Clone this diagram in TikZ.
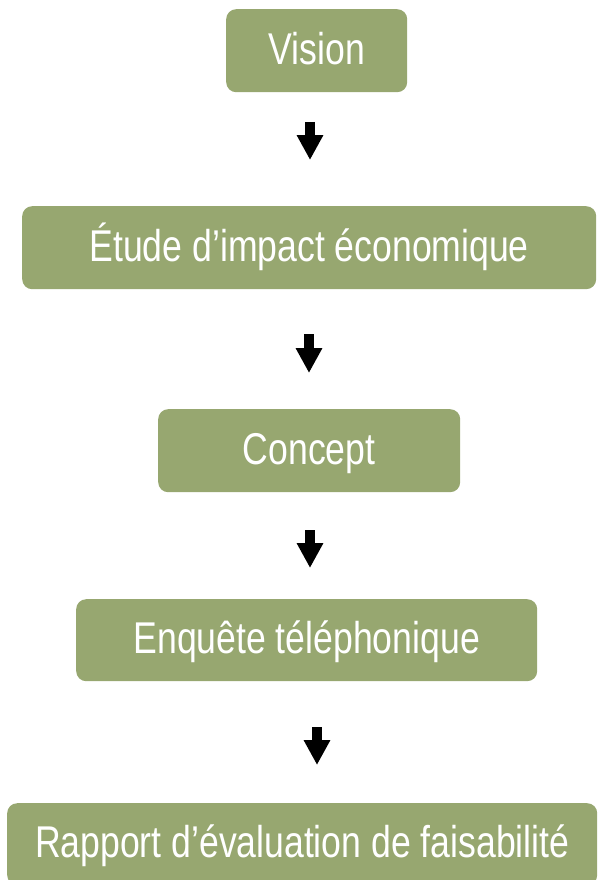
\documentclass[tikz,border=0pt]{standalone}
\usepackage{fontspec}
\setmainfont[FakeStretch=0.80]{Liberation Sans}
\usetikzlibrary{arrows.meta}
\definecolor{boxgreen}{RGB}{151,167,112}
\tikzset{
  stepbox/.style={fill=boxgreen, draw=none, rounded corners=10pt, anchor=north west,
    inner sep=0pt, text=white, font=\fontsize{44.5}{46}\selectfont,
    text height=32pt, text depth=5pt},
  bigarrow/.style={line width=10pt, line cap=butt,
    -{Triangle[width=25pt,length=25pt]}, black}
}
\begin{document}
\begin{tikzpicture}[x=1pt,y=-1pt]
\useasboundingbox (0,0) rectangle (597,880);
\clip (0,0) rectangle (597,880);
\node[stepbox, minimum width=181pt, minimum height=83pt] (vision) at (226,9) {Vision};
\node[stepbox, minimum width=574pt, minimum height=83pt] (etude) at (22,206) {Étude d’impact économique};
\node[stepbox, minimum width=302pt, minimum height=83pt] (concept) at (158,409) {Concept};
\node[stepbox, minimum width=461pt, minimum height=82pt] (enquete) at (76,599) {Enquête téléphonique};
\node[stepbox, minimum width=590pt, minimum height=82pt] (rapport) at (7,803) {Rapport d’évaluation de faisabilité};
\coordinate (a1s) at (310,122);
\coordinate (a1e) at (310,160);
\coordinate (a2s) at (309,334);
\coordinate (a2e) at (309,373);
\coordinate (a3s) at (310,530);
\coordinate (a3e) at (310,568);
\coordinate (a4s) at (317,727);
\coordinate (a4e) at (317,765);
\draw[bigarrow] (a1s) -- (a1e);
\draw[bigarrow] (a2s) -- (a2e);
\draw[bigarrow] (a3s) -- (a3e);
\draw[bigarrow] (a4s) -- (a4e);
\end{tikzpicture}
\end{document}
